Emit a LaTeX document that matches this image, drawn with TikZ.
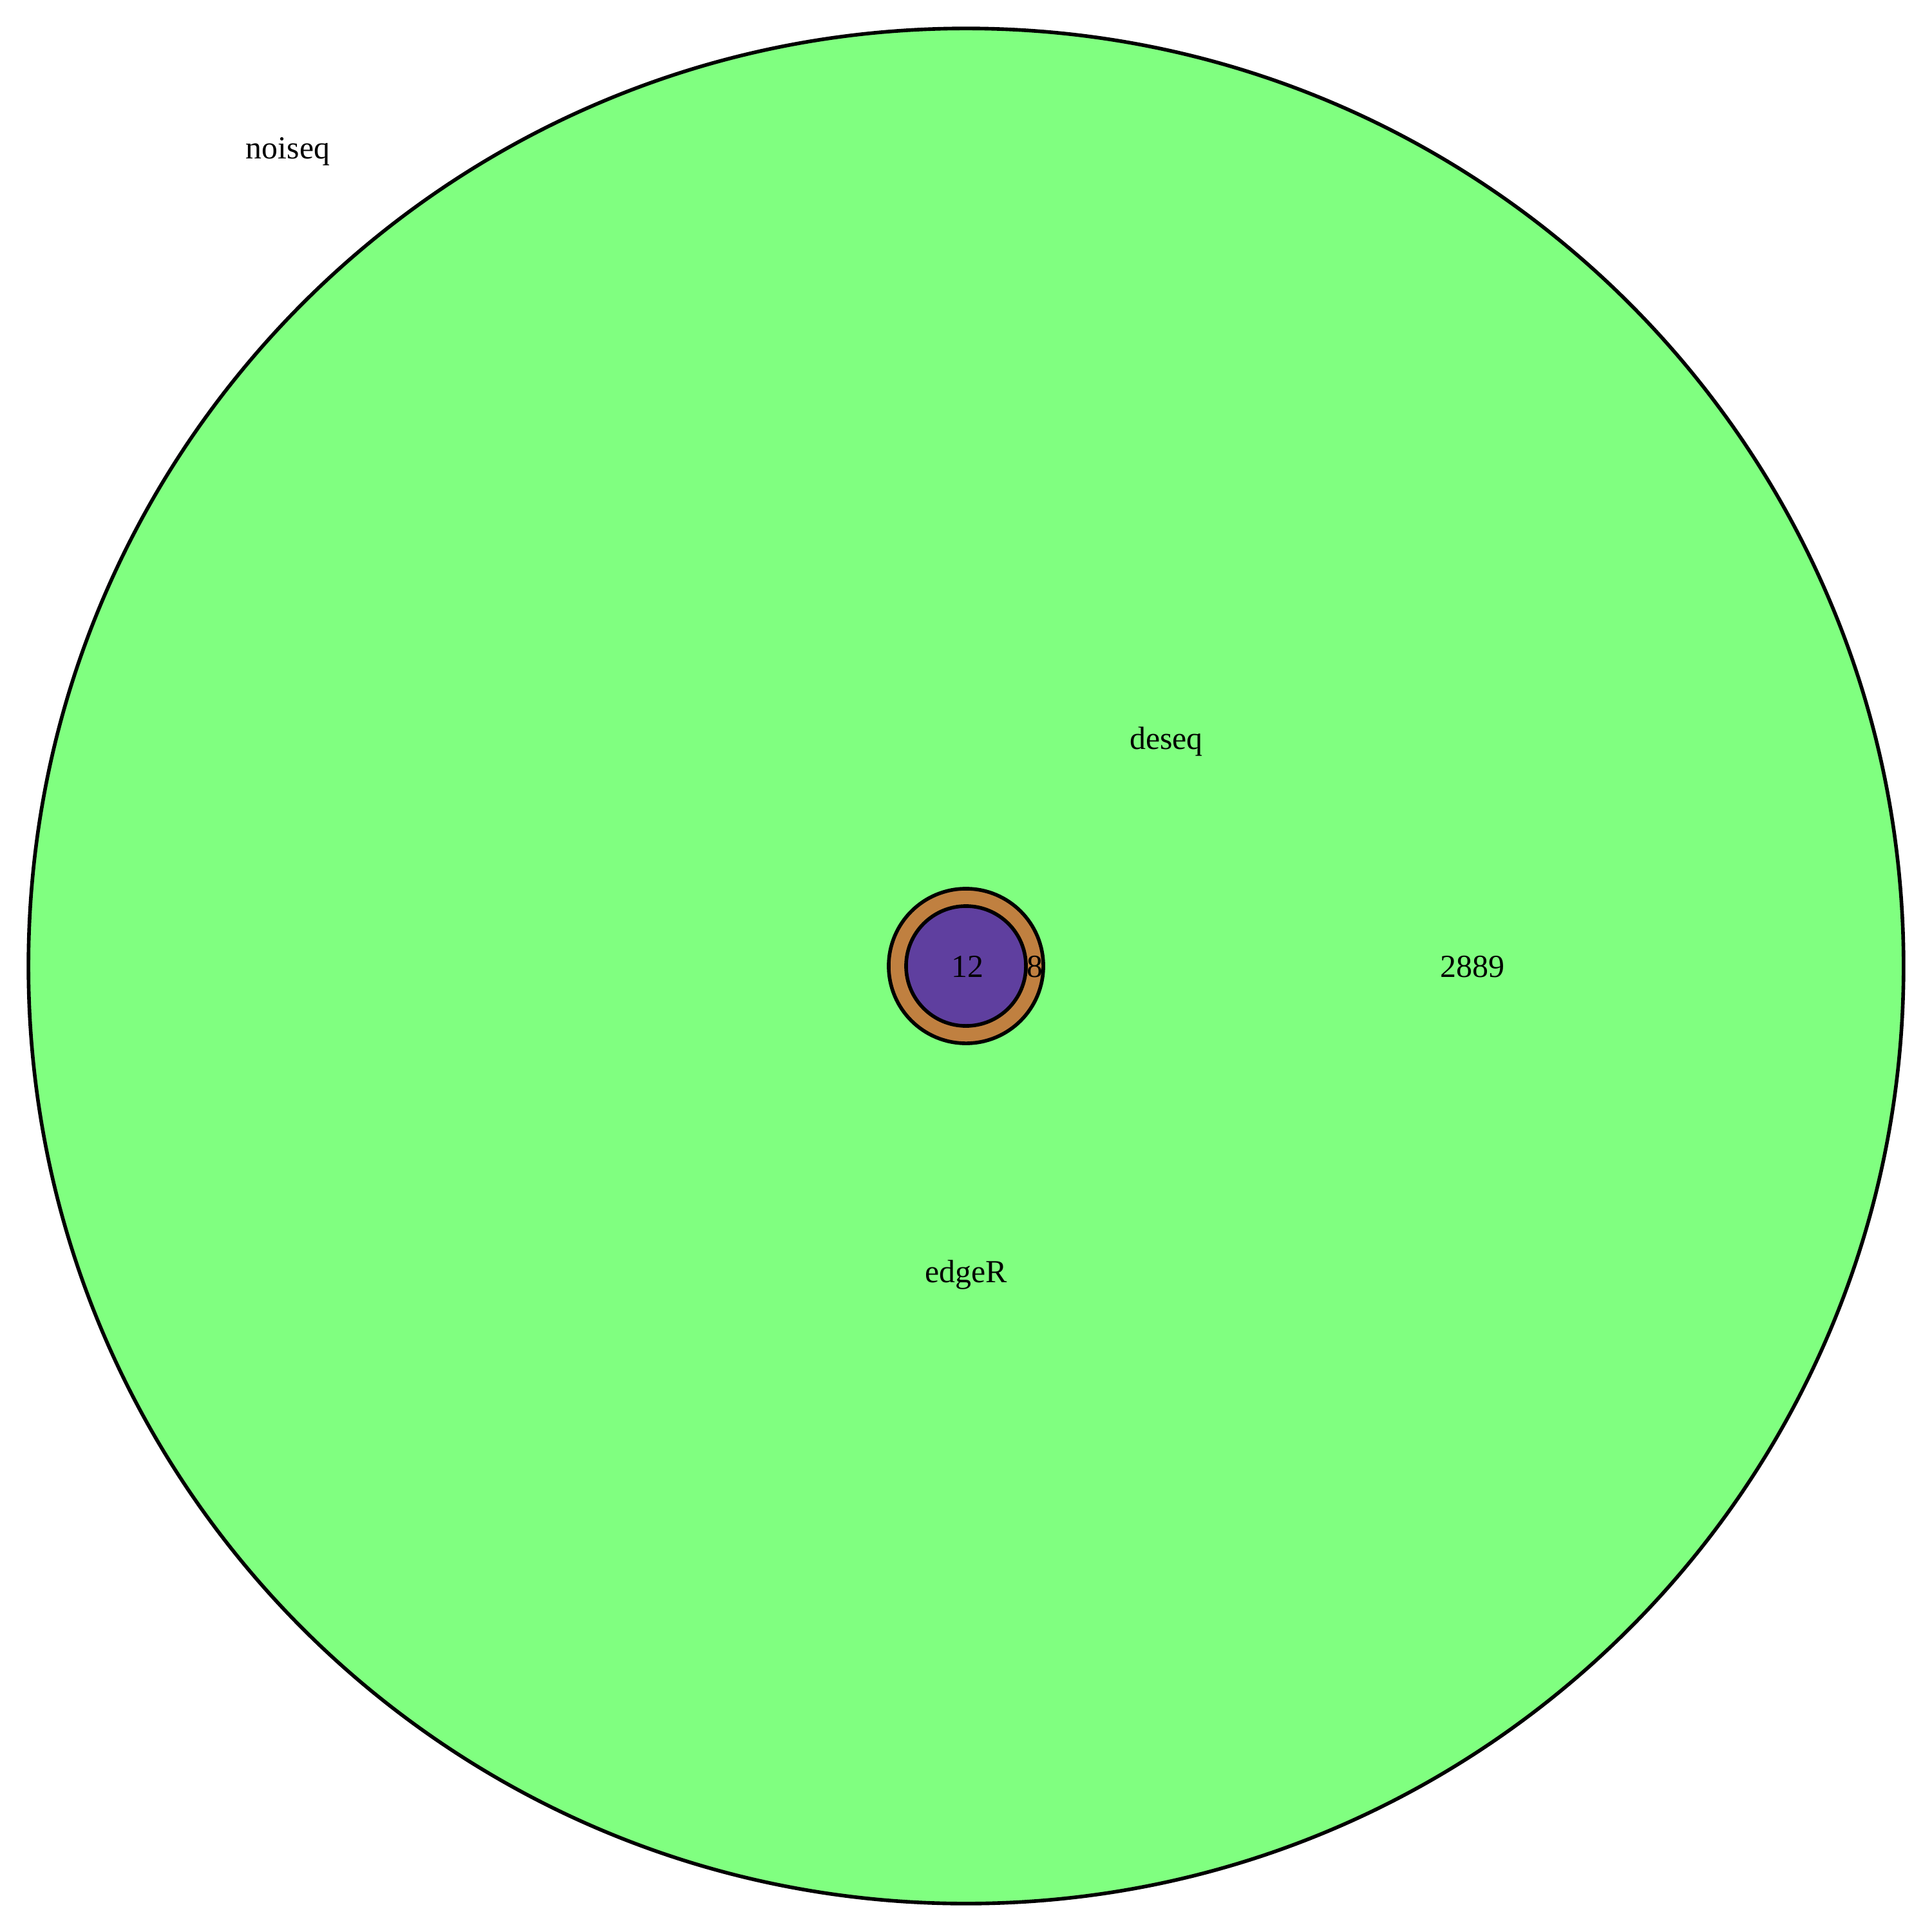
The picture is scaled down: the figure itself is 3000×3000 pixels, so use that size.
\documentclass[tikz,border=0pt]{standalone}
\usepackage{fontspec}
\setmainfont{Liberation Serif}
\definecolor{vgreen}{RGB}{128,255,128}
\definecolor{vorange}{RGB}{192,128,64}
\definecolor{vpurple}{RGB}{95,63,159}
\begin{document}
\begin{tikzpicture}[x=0.01cm,y=-0.01cm,
  setcircle/.style={draw=black,line width=1.6pt},
  lbl/.style={anchor=base,inner sep=0pt,font=\fontsize{14.2}{17}\selectfont}]
\useasboundingbox (0,0) rectangle (3000,3000);
\fill[white] (0,0) rectangle (3000,3000);
\node[setcircle,fill=vgreen,circle,minimum size=29.1cm,inner sep=0pt] (noiseqc) at (1500,1500) {};
\node[setcircle,fill=vorange,circle,minimum size=2.4cm,inner sep=0pt] (edgeRc) at (1500,1500) {};
\node[setcircle,fill=vpurple,circle,minimum size=1.86cm,inner sep=0pt] (deseqc) at (1500,1500) {};
\node[lbl] (lnoiseq) at (447,247) {noiseq};
\node[lbl] (ldeseq) at (1811,1163) {deseq};
\node[lbl] (ledgeR) at (1500,1991) {edgeR};
\node[lbl] (n2889) at (2286,1517) {2889};
\node[lbl] (n12) at (1502,1517) {12};
\node[lbl] (n8) at (1607,1517) {8};
\end{tikzpicture}
\end{document}
